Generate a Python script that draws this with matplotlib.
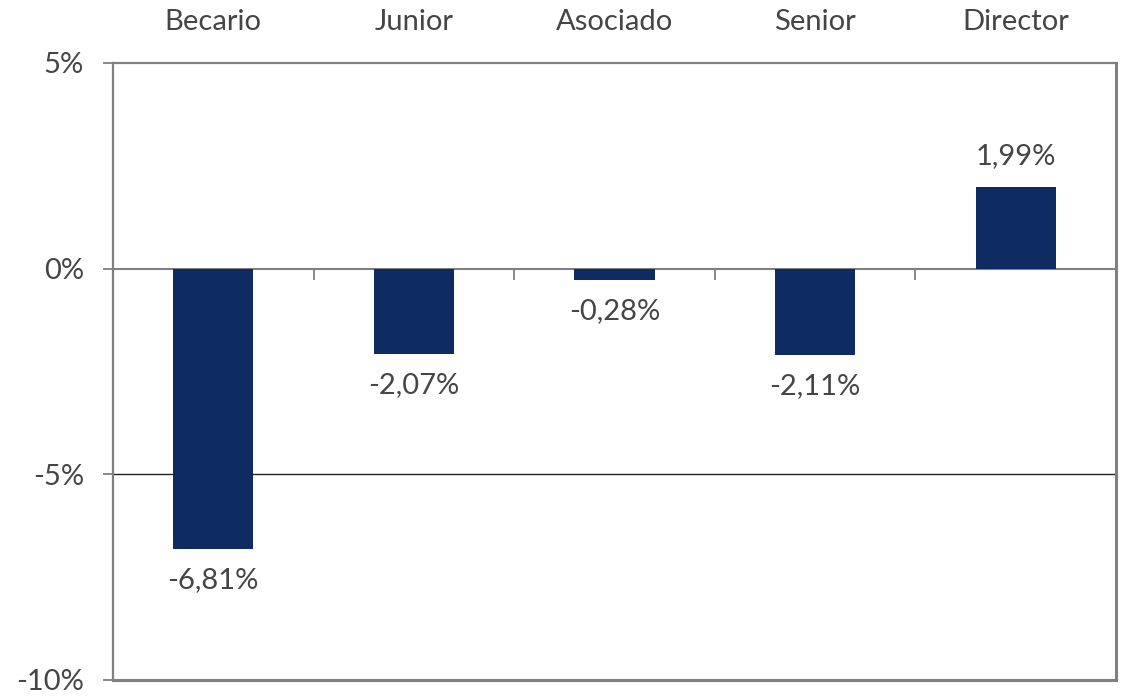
import matplotlib.pyplot as plt
from matplotlib.ticker import FixedLocator

categories = ["Becario", "Junior", "Asociado", "Senior", "Director"]
values = [-6.81, -2.07, -0.28, -2.11, 1.99]
y_ticks = [5, 0, -5, -10]

plt.rcParams["font.family"] = ["Lato", "DejaVu Sans"]
text_color = "#454545"
bar_color = "#0E2C61"
frame_color = "#808080"
fs = 21

fig = plt.figure(figsize=(11.22, 6.96), dpi=100)
ax = fig.add_axes([0.1007, 0.0230, 0.8940, 0.8865])

pos = [i + 0.5 for i in range(len(categories))]
ax.bar(pos, values, width=0.4, color=bar_color, zorder=3)

ax.set_xlim(0, len(categories))
ax.set_ylim(-10, 5)

# zero line carries the category boundary ticks
ax.spines["bottom"].set_position(("data", 0))
ax.spines["bottom"].set_color(frame_color)
ax.spines["bottom"].set_linewidth(1.5)
ax.xaxis.set_major_locator(FixedLocator(range(1, len(categories))))
ax.tick_params(axis="x", direction="out", length=8, width=1.3, color=frame_color,
               labelbottom=False)

for side in ["left", "top", "right"]:
    ax.spines[side].set_color(frame_color)
    ax.spines[side].set_linewidth(1.6)
ax.spines["right"].set_linewidth(2.2)
ax.axhline(-10, color=frame_color, lw=2.2, clip_on=False, zorder=4)
ax.axhline(-5, color="#222222", lw=1.0, zorder=1)

ax.set_yticks(y_ticks)
ax.set_yticklabels([f"{t}%" for t in y_ticks])
ax.tick_params(axis="y", direction="out", length=7, width=1.3, color=frame_color,
               labelsize=fs, labelcolor=text_color, pad=14)

top = ax.secondary_xaxis("top")
top.set_xticks(pos)
top.set_xticklabels(categories)
top.tick_params(length=0, labelsize=fs, labelcolor=text_color, pad=20)
top.spines["top"].set_visible(False)

for x, v in zip(pos, values):
    label = f"{v:.2f}%".replace(".", ",")
    if v >= 0:
        ax.annotate(label, (x, v), xytext=(0, 13), textcoords="offset points",
                    ha="center", va="bottom", fontsize=fs, color=text_color)
    else:
        ax.annotate(label, (x, v), xytext=(0, -13), textcoords="offset points",
                    ha="center", va="top", fontsize=fs, color=text_color)

fig.savefig("out.png", dpi=100)
